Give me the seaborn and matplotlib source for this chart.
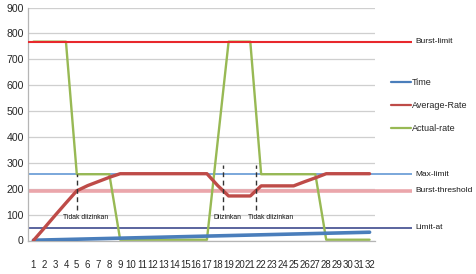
import matplotlib
matplotlib.use("Agg")
import matplotlib.pyplot as plt
import matplotlib.transforms as mtransforms
from matplotlib.lines import Line2D
import seaborn as sns
import pandas as pd

# ---- data ----
categories = [1, 2, 3, 4, 5, 6, 7, 8, 9, 10, 11, 12, 13, 14, 15, 16,
              17, 18, 19, 20, 21, 22, 23, 24, 25, 26, 27, 28, 29, 30, 31, 32]
time_vals = [1, 2, 3, 4, 5, 6, 7, 8, 9, 10, 11, 12, 13, 14, 15, 16,
             17, 18, 19, 20, 21, 22, 23, 24, 25, 26, 27, 28, 29, 30, 31, 32]
average_rate = [0, 48, 97, 145, 192, 212, 228, 244, 258, 258, 258, 258, 258, 258, 258, 258,
                258, 212, 172, 172, 172, 211, 211, 211, 211, 227, 242, 258, 258, 258, 258, 258]
actual_rate = [768, 768, 768, 768, 256, 256, 256, 256, 3, 3, 3, 3, 3, 3, 3, 3,
               3, 386, 768, 768, 768, 256, 256, 256, 256, 256, 256, 3, 3, 3, 3, 3]
series_names = ["Time", "Average-Rate", "Actual-rate"]
series_colors = ["#4a7ebb", "#be4b48", "#98b954"]

limit_names = ["Burst-limit", "Max-limit", "Burst-threshold", "Limit-at"]
limit_values = [768, 256, 192, 50]
limit_colors = ["#e8282c", "#7aa7da", "#eba6ab", "#3e4a8e"]

note_positions = [5, 18.5, 21.5]
note_ranges = [(118, 258), (118, 293), (118, 293)]
note_texts = ["Tidak diizinkan", "Diizinkan", "Tidak diizinkan"]
note_text_x = [5.8, 18.85, 22.9]
note_text_y = 88

y_ticks = [0, 100, 200, 300, 400, 500, 600, 700, 800, 900]

# ---- figure ----
sns.set_style("white")
plt.rcParams['font.family'] = ['Liberation Sans', 'DejaVu Sans']

fig = plt.figure(figsize=(4.76, 2.74), dpi=100)
ax = fig.add_axes([28 / 476, 1 - 240.5 / 274, 347 / 476, 233 / 274])

df = pd.DataFrame({
    "cat": categories * 3,
    "value": time_vals + average_rate + actual_rate,
    "series": [series_names[0]] * 32 + [series_names[1]] * 32 + [series_names[2]] * 32,
})

# reference (limit) lines extending beyond the plot area
trans = mtransforms.blended_transform_factory(ax.transAxes, ax.transData)
lw_map = [1.5, 1.4, 2.6, 1.2]
z_map = [2.7, 1.5, 1.5, 1.5]
for name, val, col, lw, z in zip(limit_names, limit_values, limit_colors, lw_map, z_map):
    ax.plot([0, 1.107], [val, val], transform=trans, color=col, lw=lw,
            clip_on=False, zorder=z, solid_capstyle='butt')
    ax.text(1.116, val, name, transform=trans, ha='left', va='center',
            fontsize=6.0, color='#1a1a1a')

widths = {"Time": 2.6, "Average-Rate": 2.4, "Actual-rate": 1.7}
zorders = {"Time": 3, "Average-Rate": 4, "Actual-rate": 2.5}
for name, col in zip(series_names, series_colors):
    sub = df[df["series"] == name]
    sns.lineplot(data=sub, x="cat", y="value", color=col, lw=widths[name],
                 ax=ax, sort=False, zorder=zorders[name], legend=False)

# annotations
for xp, (y0, y1) in zip(note_positions, note_ranges):
    ax.plot([xp, xp], [y0, y1], color='#333333', lw=1.0, ls=(0, (3.5, 2.5)), zorder=5)
for tx, t in zip(note_text_x, note_texts):
    ax.text(tx, note_text_y, t, ha='center', va='center', fontsize=4.9,
            color='#111111', zorder=6)

# axes styling
ax.set_xlim(0.5, 32.5)
ax.set_ylim(0, 900)
ax.set_yticks(y_ticks)
ax.set_yticklabels([str(v) for v in y_ticks], fontsize=7.6)
ax.set_xticks(categories)
ax.set_xticklabels([str(c) for c in categories], fontsize=6.9)
ax.set_xticks([c - 0.5 for c in categories] + [32.5], minor=True)
ax.tick_params(axis='x', which='major', length=0, pad=14)
ax.tick_params(axis='x', which='minor', length=4, color='#a0a0a0', width=0.8)
ax.tick_params(axis='y', length=0, pad=3)
ax.set_xlabel("")
ax.set_ylabel("")
ax.grid(axis='y', color='#cfcfcf', lw=0.9)
ax.set_axisbelow(True)
for s in ['top', 'right']:
    ax.spines[s].set_visible(False)
ax.spines['left'].set_color('#b5b5b5')
ax.spines['bottom'].set_color('#b5b5b5')
ax.spines['left'].set_linewidth(0.9)
ax.spines['bottom'].set_linewidth(0.9)

handles = [Line2D([0], [0], color=c, lw=1.6) for c in series_colors]
leg = ax.legend(handles, series_names, loc='upper left',
                bbox_to_anchor=(391 / 476, 1 - 78 / 274), bbox_transform=fig.transFigure,
                frameon=False, handlelength=2.2, handletextpad=0.15, labelspacing=1.55,
                borderpad=0, borderaxespad=0, prop={'size': 6.5})

fig.savefig("out.png", dpi=100)
